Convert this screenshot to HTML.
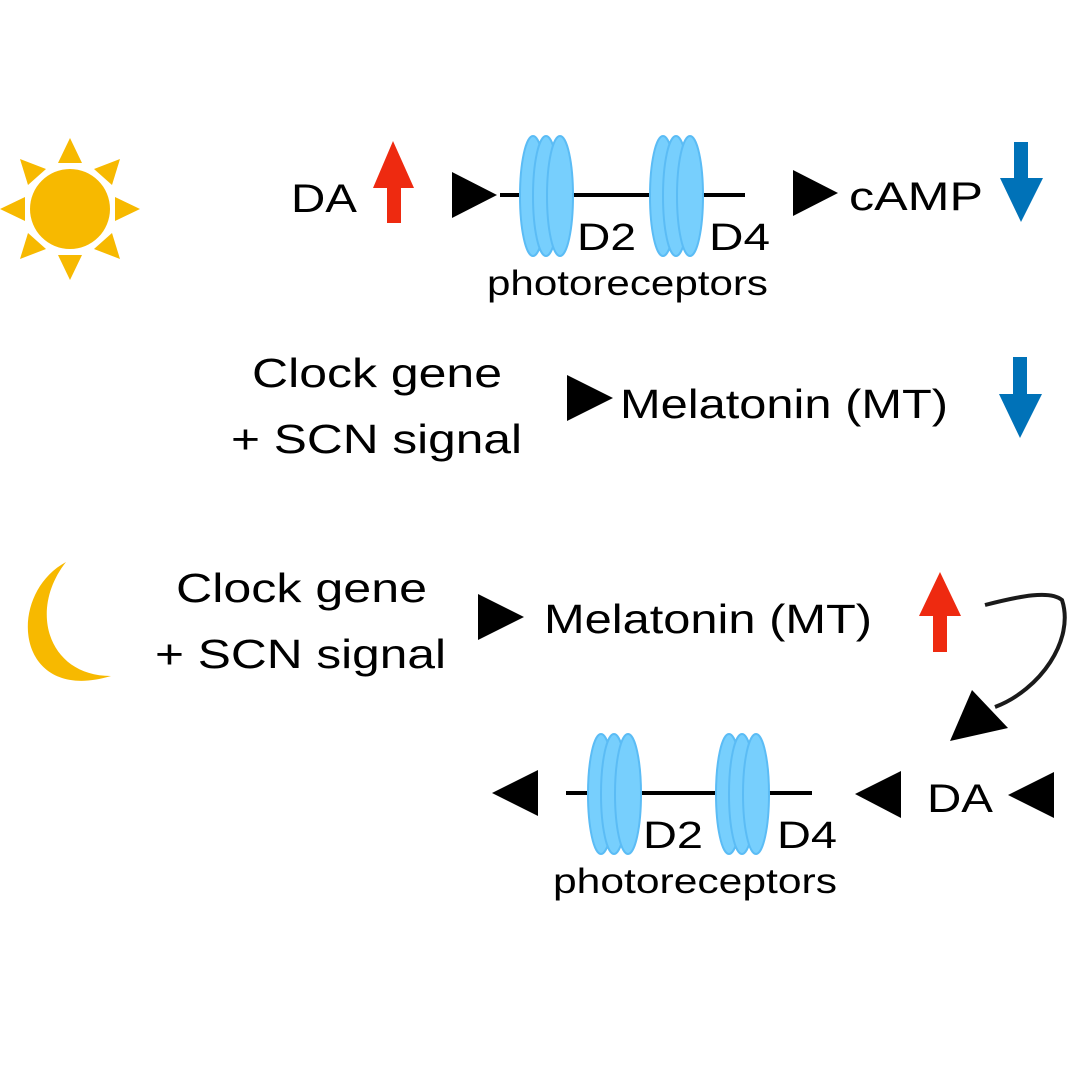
<!DOCTYPE html>
<html><head><meta charset="utf-8"><style>
html,body{margin:0;padding:0;background:#fff}
svg{display:block}
text{font-family:"Liberation Sans",sans-serif;fill:#000}
</style></head><body>
<svg width="1067" height="1067" viewBox="0 0 1067 1067">
<defs>
<g id="rec">
<ellipse cx="0" cy="0" rx="13" ry="60" fill="#77cffd" stroke="#5bbcf5" stroke-width="2"/>
<ellipse cx="13" cy="0" rx="13" ry="60" fill="#77cffd" stroke="#5bbcf5" stroke-width="2"/>
<ellipse cx="27" cy="0" rx="13" ry="60" fill="#77cffd" stroke="#5bbcf5" stroke-width="2"/>
</g>
</defs>
<!-- sun -->
<g fill="#f7b900">
<circle cx="70" cy="209" r="40"/>
<polygon points="70,138 58,163 82,163"/>
<polygon points="70,280 58,255 82,255"/>
<polygon points="0,209 25,197 25,221"/>
<polygon points="140,209 115,197 115,221"/>
<polygon points="20,159 46,169 28,185"/>
<polygon points="120,159 94,169 112,185"/>
<polygon points="20,259 46,249 28,233"/>
<polygon points="120,259 94,249 112,233"/>
</g>
<!-- row 1 -->
<text x="291" y="212" font-size="40" textLength="66" lengthAdjust="spacingAndGlyphs">DA</text>
<polygon fill="#ee2a10" points="393,141 414,188 401,188 401,223 387,223 387,188 373,188"/>
<polygon points="452,172 497,195 452,218"/>
<line x1="500" y1="195" x2="745" y2="195" stroke="#000" stroke-width="4"/>
<use href="#rec" x="533" y="196"/>
<use href="#rec" x="663" y="196"/>
<text x="577" y="250" font-size="38" textLength="59" lengthAdjust="spacingAndGlyphs">D2</text>
<text x="709" y="250" font-size="38" textLength="61" lengthAdjust="spacingAndGlyphs">D4</text>
<text x="487" y="295" font-size="35" textLength="281" lengthAdjust="spacingAndGlyphs">photoreceptors</text>
<polygon points="793,170 838,193 793,216"/>
<text x="849" y="210" font-size="40" textLength="134" lengthAdjust="spacingAndGlyphs">cAMP</text>
<polygon fill="#0072b8" points="1014,142 1028,142 1028,178 1043,178 1021,222 1000,178 1014,178"/>
<!-- row 2 -->
<text x="252" y="387" font-size="41" textLength="250" lengthAdjust="spacingAndGlyphs">Clock gene</text>
<text x="231" y="453" font-size="41" textLength="291" lengthAdjust="spacingAndGlyphs">+ SCN signal</text>
<polygon points="567,375 613,398 567,421"/>
<text x="620" y="418" font-size="41" textLength="328" lengthAdjust="spacingAndGlyphs">Melatonin (MT)</text>
<polygon fill="#0072b8" points="1013,357 1027,357 1027,394 1042,394 1020,438 999,394 1013,394"/>
<!-- moon -->
<path fill="#f7b900" d="M66,562 C5,595 15,705 111,676 C48,676 28,610 66,562 Z"/>
<!-- row 3 -->
<text x="176" y="602" font-size="41" textLength="251" lengthAdjust="spacingAndGlyphs">Clock gene</text>
<text x="155" y="668" font-size="41" textLength="291" lengthAdjust="spacingAndGlyphs">+ SCN signal</text>
<polygon points="478,594 524,617 478,640"/>
<text x="544" y="633" font-size="41" textLength="328" lengthAdjust="spacingAndGlyphs">Melatonin (MT)</text>
<polygon fill="#ee2a10" points="940,572 961,616 947,616 947,652 933,652 933,616 919,616"/>
<path d="M985,605 C1020,596 1050,590 1062,600 C1075,640 1040,690 995,707" fill="none" stroke="#1a1a1a" stroke-width="4"/>
<polygon points="950,741 972,690 1008,728"/>
<!-- row 4 -->
<polygon points="1054,772 1054,818 1008,795"/>
<text x="927" y="812" font-size="40" textLength="66" lengthAdjust="spacingAndGlyphs">DA</text>
<polygon points="901,771 901,818 855,794"/>
<line x1="566" y1="793" x2="812" y2="793" stroke="#000" stroke-width="4"/>
<use href="#rec" x="601" y="794"/>
<use href="#rec" x="729" y="794"/>
<text x="643" y="848" font-size="38" textLength="60" lengthAdjust="spacingAndGlyphs">D2</text>
<text x="777" y="848" font-size="38" textLength="60" lengthAdjust="spacingAndGlyphs">D4</text>
<text x="553" y="893" font-size="35" textLength="284" lengthAdjust="spacingAndGlyphs">photoreceptors</text>
<polygon points="538,770 538,816 492,793"/>
</svg>
</body></html>
